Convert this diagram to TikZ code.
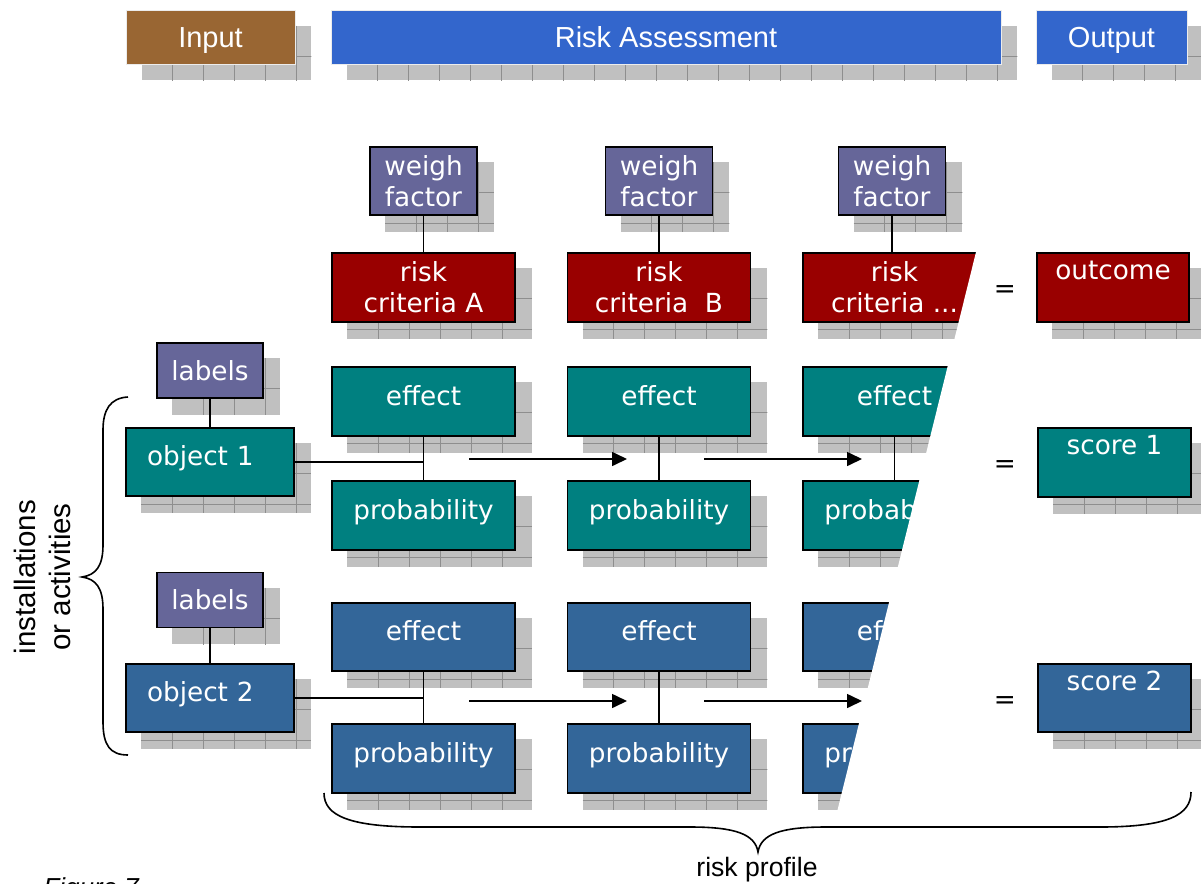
\documentclass[tikz,border=0pt]{standalone}
\usepackage{fontspec}
\setmainfont{DejaVu Sans}
\newfontfamily\headfont{Liberation Sans}
\usetikzlibrary{arrows.meta,backgrounds,calc}

\definecolor{inbrown}{HTML}{996633}
\definecolor{headblue}{HTML}{3366CC}
\definecolor{weighpurple}{HTML}{666699}
\definecolor{critred}{HTML}{990000}
\definecolor{rowteal}{HTML}{008080}
\definecolor{rowblue}{HTML}{336699}
\definecolor{shadowfill}{HTML}{C0C0C0}
\definecolor{shadowline}{HTML}{8E8E8E}

\tikzset{
  box/.style={draw=black, line width=1.6pt, text=white, inner sep=0pt,
    font=\fontsize{26.3}{31}\selectfont, align=center},
  lowtext/.style={text height=20pt, text depth=13pt},
  toptext/.style={text height=20pt, text depth=36pt},
  headbox/.style={draw=white!85!gray, line width=0.6pt, text=white, inner sep=0pt,
    font=\headfont\fontsize{29}{31}\selectfont, text height=21pt, text depth=0pt,
    minimum height=54pt},
  link/.style={line width=1.6pt},
  flow/.style={line width=1.6pt, -{Triangle[length=15pt,width=14pt]}},
  curly/.style={line width=1.6pt}
}

% gray shadow with a cell grid, 16pt to the lower right of a node
\newcommand{\gridshadow}[1]{%
  \begin{scope}
    \clip ([shift={(16,16)}]#1.north west) rectangle ([shift={(16,16)}]#1.south east);
    \fill[shadowfill] ([shift={(16,16)}]#1.north west) rectangle ([shift={(16,16)}]#1.south east);
    \foreach \k in {1,...,22}
      \draw[shadowline, line width=0.9pt] ([shift={(16+31*\k,16)}]#1.north west) -- ++(0,120);
    \foreach \k in {1,2,3}
      \draw[shadowline, line width=0.9pt] ([shift={(16,16+30.5*\k)}]#1.north west) -- ++(720,0);
  \end{scope}}

\begin{document}
\begin{tikzpicture}[x=1pt, y=-1pt]
\useasboundingbox (0,0) rectangle (1201,883);

% headers
\node[headbox, fill=inbrown, minimum width=169pt] (hin) at (210.5,37) {Input};
\node[headbox, fill=headblue, minimum width=670pt] (hrisk) at (666,37) {Risk Assessment};
\node[headbox, fill=headblue, minimum width=151pt] (hout) at (1111.5,37) {Output};

% weigh factors and risk criteria
\node[box, fill=weighpurple, minimum width=107pt, minimum height=68pt] (wf1) at (423.5,181) {weigh\\factor};
\node[box, fill=weighpurple, minimum width=107pt, minimum height=68pt] (wf2) at (659,181) {weigh\\factor};
\node[box, fill=weighpurple, minimum width=107pt, minimum height=68pt] (wf3) at (892,181) {weigh\\factor};
\node[box, fill=critred, minimum width=183pt, minimum height=69pt] (rc1) at (423.5,287.5) {risk\\criteria A};
\node[box, fill=critred, minimum width=183pt, minimum height=69pt] (rc2) at (659,287.5) {risk\\criteria~~B};
\node[box, fill=critred, minimum width=183pt, minimum height=69pt] (rc3) at (894.5,287.5) {risk\\criteria ...};

% objects and labels
\node[box, fill=weighpurple, minimum width=106pt, minimum height=55pt] (lab1) at (210,370.5) {labels};
\node[box, fill=weighpurple, minimum width=106pt, minimum height=55pt] (lab2) at (210,600) {labels};
\node[box, fill=rowteal, lowtext, text width=126pt, inner xsep=21pt, align=left, minimum height=68pt] (obj1) at (210,462) {object 1};
\node[box, fill=rowblue, lowtext, text width=126pt, inner xsep=21pt, align=left, minimum height=68pt] (obj2) at (210,698) {object 2};

% effect and probability, first object
\node[box, fill=rowteal, lowtext, minimum width=183pt, minimum height=69pt] (eft1) at (423.5,401.5) {effect};
\node[box, fill=rowteal, lowtext, minimum width=183pt, minimum height=69pt] (eft2) at (659,401.5) {effect};
\node[box, fill=rowteal, lowtext, minimum width=183pt, minimum height=69pt] (eft3) at (894.5,401.5) {effect};
\node[box, fill=rowteal, lowtext, minimum width=183pt, minimum height=69pt] (prt1) at (423.5,515.5) {probability};
\node[box, fill=rowteal, lowtext, minimum width=183pt, minimum height=69pt] (prt2) at (659,515.5) {probability};
\node[box, fill=rowteal, lowtext, minimum width=183pt, minimum height=69pt] (prt3) at (894.5,515.5) {probability};

% effect and probability, second object
\node[box, fill=rowblue, lowtext, minimum width=183pt, minimum height=68pt] (efb1) at (423.5,637) {effect};
\node[box, fill=rowblue, lowtext, minimum width=183pt, minimum height=68pt] (efb2) at (659,637) {effect};
\node[box, fill=rowblue, lowtext, minimum width=183pt, minimum height=68pt] (efb3) at (894.5,637) {effect};
\node[box, fill=rowblue, lowtext, minimum width=183pt, minimum height=69pt] (prb1) at (423.5,758.5) {probability};
\node[box, fill=rowblue, lowtext, minimum width=183pt, minimum height=69pt] (prb2) at (659,758.5) {probability};
\node[box, fill=rowblue, lowtext, minimum width=183pt, minimum height=69pt] (prb3) at (894.5,758.5) {probability};

% links
\draw[link] (wf1) -- (rc1);
\draw[link] (wf2) -- (rc2);
\draw[link] (wf3) -- (wf3 |- rc3.north);
\draw[link] (lab1) -- (obj1);
\draw[link] (lab2) -- (obj2);
\coordinate (j1) at (eft1.south |- obj1.east);
\coordinate (j2) at (efb1.south |- obj2.east);
\draw[link] (obj1.east) -- (j1);
\draw[link] (obj2.east) -- (j2);
\draw[link] (eft1) -- (prt1);
\draw[link] (eft2) -- (prt2);
\draw[link] (eft3) -- (prt3);
\draw[link] (efb1) -- (prb1);
\draw[link] (efb2) -- (prb2);
\draw[link] (efb3) -- (prb3);

% arrows between the columns
\coordinate (at1) at (469,459);  \coordinate (at2) at (627,459);
\coordinate (at3) at (704,459);  \coordinate (at4) at (862,459);
\coordinate (ab1) at (469,701);  \coordinate (ab2) at (627,701);
\coordinate (ab3) at (704,701);  \coordinate (ab4) at (862,701);
\draw[flow] (at1) -- (at2);
\draw[flow] (at3) -- (at4);
\draw[flow] (ab1) -- (ab2);
\draw[flow] (ab3) -- (ab4);

% slanted cut through the third column
\fill[white] (979,240) -- (837,812) -- (1012,812) -- (1012,240) -- cycle;

% outcome and scores
\node[font=\fontsize{26.3}{31}\selectfont] (eq1) at (1005,292) {=};
\node[font=\fontsize{26.3}{31}\selectfont] (eq2) at (1005,467) {=};
\node[font=\fontsize{26.3}{31}\selectfont] (eq3) at (1005,703) {=};
\node[box, fill=critred, toptext, minimum width=152pt, minimum height=69pt] (outc) at (1113,287.5) {outcome};
\node[box, fill=rowteal, toptext, minimum width=153pt, minimum height=69pt] (sc1) at (1114.5,462.5) {score 1};
\node[box, fill=rowblue, toptext, minimum width=153pt, minimum height=68pt] (sc2) at (1114.5,698) {score 2};

% braces
\draw[curly] (128,397) .. controls (110,398) and (103,410) .. (103,430) -- (103,545)
  .. controls (103,566) and (96,575) .. (82,577) .. controls (96,579) and (103,588) .. (103,609)
  -- (103,722) .. controls (103,745) and (110,755) .. (128,755);
\node[font=\headfont\fontsize{29.5}{35}\selectfont, rotate=90, align=center] (ins) at (42,577) {installations\\or activities};
\draw[curly] (324,793) .. controls (324,816) and (350,827) .. (420,827) -- (690,827)
  .. controls (735,827) and (755,834) .. (758,852) .. controls (761,834) and (781,827) .. (826,827)
  -- (1100,827) .. controls (1168,827) and (1191,815) .. (1191,792);
\node[font=\headfont\fontsize{26.6}{30}\selectfont, anchor=base] (prof) at (757,876) {risk profile};
\node[font=\headfont\itshape\fontsize{26}{30}\selectfont, anchor=base west] (fig) at (40,896) {Figure 7};

% shadows behind the boxes
\begin{scope}[on background layer]
\foreach \n in {hin,hrisk,hout,wf1,wf2,wf3,rc1,rc2,rc3,lab1,lab2,obj1,obj2,
  eft1,eft2,eft3,prt1,prt2,prt3,efb1,efb2,efb3,prb1,prb2,prb3,outc,sc1,sc2}
  {\gridshadow{\n}}
\end{scope}
\end{tikzpicture}
\end{document}
